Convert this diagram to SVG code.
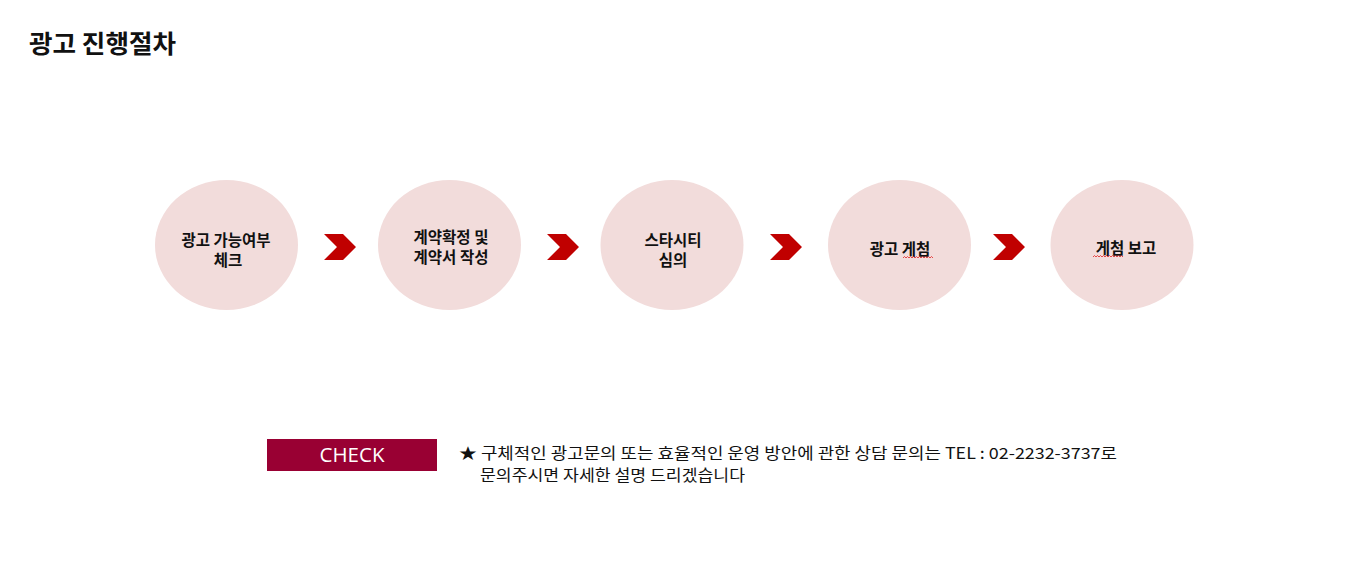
<svg xmlns="http://www.w3.org/2000/svg" width="1360" height="585" viewBox="0 0 1360 585">
<defs>
<style>
.node ellipse{fill:#F2DCDB}
.lbl{font-family:"Noto Sans CJK KR","Noto Sans",sans-serif;font-size:15.5px;font-weight:bold;fill:#111;text-anchor:middle}
.arrow{fill:#C00000}
.sq{fill:none;stroke:#E02020;stroke-width:0.8}
.note{font-family:"Noto Sans CJK KR","Noto Sans",sans-serif;font-size:15.5px;fill:#111}
</style>
<polygon id="chev" points="0,0 19,0 32,13 19,26 0,26 13,13"/>
</defs>
<rect width="1360" height="585" fill="#fff"/>
<text x="29" y="53" font-family="'Noto Sans CJK KR','Noto Sans',sans-serif" font-size="25" font-weight="bold" fill="#111" textLength="147" lengthAdjust="spacingAndGlyphs">광고 진행절차</text>

<g id="connectors">
<use href="#chev" class="arrow" x="324" y="234"/>
<use href="#chev" class="arrow" x="547" y="234"/>
<use href="#chev" class="arrow" x="770" y="234"/>
<use href="#chev" class="arrow" x="993" y="234"/>
</g>

<g id="n1" class="node">
<ellipse cx="226.5" cy="245" rx="71.5" ry="65"/>
<text class="lbl"><tspan x="226" y="246">광고 가능여부</tspan><tspan x="228" y="266">체크</tspan></text>
</g>
<g id="n2" class="node">
<ellipse cx="449.5" cy="245" rx="71.5" ry="65"/>
<text class="lbl"><tspan x="451" y="243">계약확정 및</tspan><tspan x="451" y="263">계약서 작성</tspan></text>
</g>
<g id="n3" class="node">
<ellipse cx="672" cy="245" rx="71.5" ry="65"/>
<text class="lbl"><tspan x="673" y="246">스타시티</tspan><tspan x="673" y="266">심의</tspan></text>
</g>
<g id="n4" class="node">
<ellipse cx="899.5" cy="245" rx="71.5" ry="65"/>
<text class="lbl" x="900" y="255">광고 게첨</text>
<path class="sq" d="M903 258 l1.5 -1.5 l1.5 1.5 l1.5 -1.5 l1.5 1.5 l1.5 -1.5 l1.5 1.5 l1.5 -1.5 l1.5 1.5 l1.5 -1.5 l1.5 1.5 l1.5 -1.5 l1.5 1.5 l1.5 -1.5 l1.5 1.5 l1.5 -1.5 l1.5 1.5 l1.5 -1.5 l1.5 1.5 l1.5 -1.5 l1.5 1.5"/>
</g>
<g id="n5" class="node">
<ellipse cx="1122" cy="245" rx="71.5" ry="65"/>
<text class="lbl" x="1126" y="254">게첨 보고</text>
<path class="sq" d="M1093 257 l1.5 -1.5 l1.5 1.5 l1.5 -1.5 l1.5 1.5 l1.5 -1.5 l1.5 1.5 l1.5 -1.5 l1.5 1.5 l1.5 -1.5 l1.5 1.5 l1.5 -1.5 l1.5 1.5 l1.5 -1.5 l1.5 1.5 l1.5 -1.5 l1.5 1.5 l1.5 -1.5 l1.5 1.5 l1.5 -1.5 l1.5 1.5"/>
</g>

<g id="check">
<rect x="267" y="439" width="170" height="32" fill="#990033"/>
<text x="352" y="462" font-family="'Open Sans','Noto Sans',sans-serif" font-size="20.5" fill="#fff" text-anchor="middle">CHECK</text>
</g>
<g id="note">
<text class="note"><tspan x="459" y="459" textLength="658" lengthAdjust="spacingAndGlyphs">★ 구체적인 광고문의 또는 효율적인 운영 방안에 관한 상담 문의는  TEL : 02-2232-3737로</tspan><tspan x="480" y="481" textLength="265" lengthAdjust="spacingAndGlyphs">문의주시면 자세한 설명 드리겠습니다</tspan></text>
</g>
</svg>
